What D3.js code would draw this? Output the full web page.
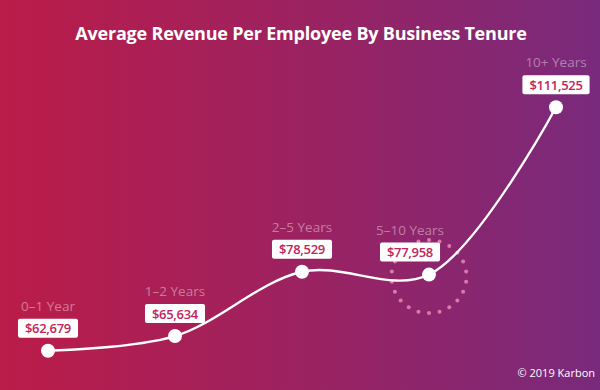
<!DOCTYPE html>
<html><head><meta charset="utf-8">
<script src="https://cdn.jsdelivr.net/npm/d3@7"></script>
<style>html,body{margin:0;padding:0;background:#fff;}svg{display:block;}</style>
</head><body>
<svg id="chart" width="600" height="390"></svg>
<script>
const categories = ["0\u20131 Year", "1\u20132 Years", "2\u20135 Years", "5\u201310 Years", "10+ Years"];
const values = [62679, 65634, 78529, 77958, 111525];
const valueLabels = ["$62,679", "$65,634", "$78,529", "$77,958", "$111,525"];
const title = "Average Revenue Per Employee By Business Tenure";
const credit = "\u00a9 2019 Karbon";
const highlightIndex = 3;

const W = 600, H = 390;
const svg = d3.select("#chart");
const defs = svg.append("defs");
const grad = defs.append("linearGradient").attr("id", "bg").attr("x1", "0").attr("x2", "1").attr("y1", "0").attr("y2", "0");
grad.append("stop").attr("offset", "0%").attr("stop-color", "#bb1c48");
grad.append("stop").attr("offset", "50%").attr("stop-color", "#9c2261");
grad.append("stop").attr("offset", "100%").attr("stop-color", "#792a7c");
svg.append("rect").attr("width", W).attr("height", H).attr("fill", "url(#bg)");

const font = "'Open Sans', 'Noto Sans', sans-serif";

// title
const t = svg.append("text").attr("x", 301).attr("y", 40).attr("text-anchor", "middle")
  .attr("fill", "#fff").attr("font-family", font).attr("font-weight", 700).attr("font-size", 19)
  .attr("letter-spacing", -0.2).text(title);
const tw = t.node().getComputedTextLength();
t.attr("font-size", 19 * 452 / tw);

const x = d3.scalePoint().domain(categories).range([48, 556]);
const y = d3.scaleLinear().domain([50000, 120000]).range([414, 65]);

const pts = categories.map((c, i) => [x(c), y(values[i])]);

// dotted circle around highlight
const hc = pts[highlightIndex];
const nDots = 22;
svg.append("g").selectAll("circle").data(d3.range(nDots)).join("circle")
  .attr("cx", i => hc[0] + 37.5 * Math.sin(i / nDots * 2 * Math.PI))
  .attr("cy", i => hc[1] + 2 - 36.5 * Math.cos(i / nDots * 2 * Math.PI))
  .attr("r", 2).attr("fill", "#e88ab4").attr("opacity", 0.85);

const line = d3.line().curve(d3.curveCatmullRom.alpha(0.5));
svg.append("path").attr("d", line(pts)).attr("fill", "none")
  .attr("stroke", "#fff").attr("stroke-width", 2.4);

svg.append("g").selectAll("circle").data(pts).join("circle")
  .attr("cx", d => d[0]).attr("cy", d => d[1]).attr("r", 7).attr("fill", "#fff");

// labels
const lg = svg.append("g");
categories.forEach((c, i) => {
  const px = pts[i][0] + (i === highlightIndex ? -19 : 0);
  const boxBottom = pts[i][1] - 13;
  const g = lg.append("g");
  const txt = g.append("text").attr("x", px).attr("y", boxBottom - 4.5)
    .attr("text-anchor", "middle").attr("fill", "#c2245a")
    .attr("font-family", font).attr("font-weight", 600).attr("font-size", 13)
    .attr("letter-spacing", -0.3).text(valueLabels[i]);
  const bw = txt.node().getComputedTextLength() + 14;
  g.insert("rect", "text").attr("x", px - bw / 2).attr("y", boxBottom - 19)
    .attr("width", bw).attr("height", 19).attr("rx", 2).attr("fill", "#fff");
  lg.append("text").attr("x", px).attr("y", boxBottom - 19 - 8)
    .attr("text-anchor", "middle").attr("fill", "#fff").attr("fill-opacity", 0.42)
    .attr("font-family", font).attr("font-size", 13.5).text(c);
});

svg.append("text").attr("x", 595).attr("y", 377).attr("text-anchor", "end")
  .attr("fill", "#fff").attr("font-family", font).attr("font-size", 11).text(credit);
</script>
</body></html>
